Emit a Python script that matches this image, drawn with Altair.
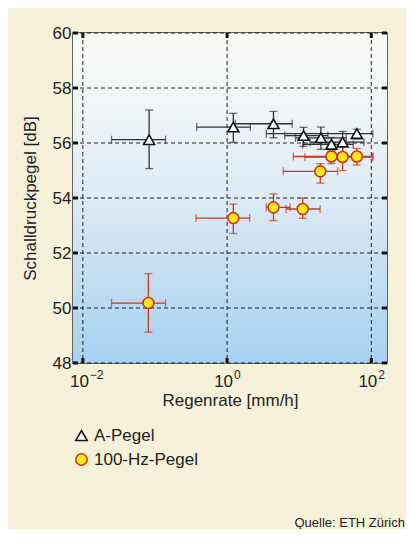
import altair as alt
import pandas as pd

# ---- data ----
series_names = ["A-Pegel", "100-Hz-Pegel"]

a_x = [0.083, 1.22, 4.4, 11.5, 20.0, 28.0, 40.0, 63.0]
a_y = [56.12, 56.58, 56.70, 56.27, 56.19, 55.95, 56.03, 56.34]
a_xlo = [0.025, 0.38, 1.3, 6.3, 8.9, 11.2, 14.1, 3.5]
a_xhi = [0.14, 2.1, 8.0, 25.0, 45.0, 56.0, 79.0, 105.0]
a_ylo = [55.07, 56.02, 56.19, 55.88, 55.77, 55.70, 55.49, 56.15]
a_yhi = [57.20, 57.08, 57.15, 56.57, 56.58, 56.20, 56.42, 56.50]

h_x = [0.081, 1.22, 4.4, 11.2, 19.6, 28.0, 40.0, 63.0]
h_y = [50.18, 53.27, 53.66, 53.60, 54.97, 55.51, 55.49, 55.51]
h_xlo = [0.025, 0.37, 3.5, 6.6, 6.0, 8.3, 12.0, 35.0]
h_xhi = [0.14, 2.05, 7.5, 19.5, 34.0, 56.0, 105.0, 105.0]
h_ylo = [49.12, 52.71, 53.18, 53.26, 54.54, 55.25, 55.00, 55.20]
h_yhi = [51.25, 53.78, 54.15, 54.00, 55.25, 55.75, 56.10, 55.80]

x_ticks = [0.01, 1, 100]
x_tick_base = ["10", "10", "10"]
x_tick_exp = ["−2", "0", "2"]
y_ticks = [48, 50, 52, 54, 56, 58, 60]

rows = []
for name, xs, ys, xl, xh, yl, yh in [
    (series_names[0], a_x, a_y, a_xlo, a_xhi, a_ylo, a_yhi),
    (series_names[1], h_x, h_y, h_xlo, h_xhi, h_ylo, h_yhi),
]:
    for i in range(len(xs)):
        rows.append(dict(series=name, x=xs[i], y=ys[i], xlo=xl[i], xhi=xh[i], ylo=yl[i], yhi=yh[i]))
df = pd.DataFrame(rows)

W, H = 314, 330
BG = "#f6f1d9"
RED = "#c8391c"
FONT = "Liberation Sans"
TXT = "#222222"

xscale = alt.Scale(type="log", domain=[0.0073, 165], nice=False)
yscale = alt.Scale(domain=[48, 60], nice=False, zero=False)

X = alt.X("x:Q", scale=xscale, axis=alt.Axis(
    values=x_ticks, labels=False, title="Regenrate [mm/h]",
    grid=False, ticks=False, domain=False,
    titleFontSize=17, titleFontWeight="normal", titlePadding=29,
    titleColor=TXT, titleFont=FONT))
Y = alt.Y("y:Q", scale=yscale, axis=alt.Axis(
    values=y_ticks, title="Schalldruckpegel [dB]",
    grid=False, ticks=False, domain=False, labelFontSize=17, labelPadding=2,
    titleFontSize=17, titleFontWeight="normal", titlePadding=13,
    labelColor=TXT, titleColor=TXT, labelFont=FONT, titleFont=FONT))

grad = alt.Gradient(gradient="linear", x1=0, x2=0, y1=0, y2=1,
                    stops=[alt.GradientStop(color="#fcfcf8", offset=0),
                           alt.GradientStop(color="#e2edf6", offset=0.45),
                           alt.GradientStop(color="#a6d0ef", offset=1)])

background = alt.Chart(pd.DataFrame({"a": [0]})).mark_rect(fill=grad).encode(
    x=alt.value(0), x2=alt.value(W), y=alt.value(0), y2=alt.value(H))

xt = pd.DataFrame({"v": x_ticks, "b": x_tick_base, "e": x_tick_exp})
yt = pd.DataFrame({"v": y_ticks})
grid_x = alt.Chart(xt).mark_rule(color="#222", strokeWidth=1, strokeDash=[4, 3]).encode(
    x=alt.X("v:Q", scale=xscale), y=alt.value(0), y2=alt.value(H))
grid_y = alt.Chart(yt).mark_rule(color="#222", strokeWidth=1, strokeDash=[4, 3]).encode(
    y=alt.Y("v:Q", scale=yscale), x=alt.value(0), x2=alt.value(W))

# x tick labels with superscript exponents
lab_base = alt.Chart(xt).mark_text(align="right", baseline="alphabetic", fontSize=17,
                                   font=FONT, color=TXT, dx=6).encode(
    x=alt.X("v:Q", scale=xscale), y=alt.value(H + 24), text="b:N")
lab_exp = alt.Chart(xt).mark_text(align="left", baseline="alphabetic", fontSize=12,
                                  font=FONT, color=TXT, dx=7).encode(
    x=alt.X("v:Q", scale=xscale), y=alt.value(H + 16), text="e:N")


def err_layers(name, col):
    b = alt.Chart(df).transform_filter(alt.datum.series == name)
    sw = 1.3
    return [
        b.mark_rule(strokeWidth=sw, color=col).encode(
            x=alt.X("xlo:Q", scale=xscale), x2="xhi:Q", y=alt.Y("y:Q", scale=yscale)),
        b.mark_rule(strokeWidth=sw, color=col).encode(
            x=alt.X("x:Q", scale=xscale), y=alt.Y("ylo:Q", scale=yscale), y2="yhi:Q"),
        b.mark_tick(orient="vertical", size=8, thickness=sw, color=col).encode(
            x=alt.X("xlo:Q", scale=xscale), y=alt.Y("y:Q", scale=yscale)),
        b.mark_tick(orient="vertical", size=8, thickness=sw, color=col).encode(
            x=alt.X("xhi:Q", scale=xscale), y=alt.Y("y:Q", scale=yscale)),
        b.mark_tick(orient="horizontal", size=8, thickness=sw, color=col).encode(
            x=alt.X("x:Q", scale=xscale), y=alt.Y("ylo:Q", scale=yscale)),
        b.mark_tick(orient="horizontal", size=8, thickness=sw, color=col).encode(
            x=alt.X("x:Q", scale=xscale), y=alt.Y("yhi:Q", scale=yscale)),
    ]


leg = alt.Legend(title=None, orient="none", legendX=0, legendY=394,
                 labelFontSize=17, labelFont=FONT, labelColor=TXT,
                 symbolSize=130, rowPadding=6, symbolStrokeWidth=1.6, labelOffset=4)

points = alt.Chart(df).mark_point(filled=True, opacity=1, strokeWidth=1.6, size=120).encode(
    x=X, y=Y,
    shape=alt.Shape("series:N", scale=alt.Scale(domain=series_names, range=["triangle-up", "circle"]), legend=leg),
    fill=alt.Fill("series:N", scale=alt.Scale(domain=series_names, range=["#ffffff", "#ffe81a"]), legend=leg),
    stroke=alt.Stroke("series:N", scale=alt.Scale(domain=series_names, range=["#111111", RED]), legend=leg),
)

# inward tick marks on the frame
tick_b = alt.Chart(xt).mark_rule(color="#111", strokeWidth=3).encode(
    x=alt.X("v:Q", scale=xscale), y=alt.value(H - 5), y2=alt.value(H))
tick_t = alt.Chart(xt).mark_rule(color="#111", strokeWidth=3).encode(
    x=alt.X("v:Q", scale=xscale), y=alt.value(0), y2=alt.value(5))
tick_l = alt.Chart(yt).mark_rule(color="#111", strokeWidth=3).encode(
    y=alt.Y("v:Q", scale=yscale), x=alt.value(0), x2=alt.value(5))
tick_r = alt.Chart(yt).mark_rule(color="#111", strokeWidth=3).encode(
    y=alt.Y("v:Q", scale=yscale), x=alt.value(W - 5), x2=alt.value(W))

source = alt.Chart(pd.DataFrame({"t": ["Quelle: ETH Zürich"]})).mark_text(
    align="right", baseline="alphabetic", fontSize=13, font=FONT, color=TXT).encode(
    text="t:N", x=alt.value(W + 18), y=alt.value(H + 164))

layers = [background, grid_x, grid_y] + err_layers(series_names[0], "#333333") + \
    err_layers(series_names[1], RED) + [points, tick_b, tick_t, tick_l, tick_r,
                                        lab_base, lab_exp, source]

chart = alt.layer(*layers).properties(
    width=W, height=H,
    autosize=alt.AutoSizeParams(type="none"),
    padding={"left": 65, "top": 25, "right": 19, "bottom": 166},
    background=BG,
).configure_view(stroke="#333", strokeWidth=1.5)

chart.save("out.html", embed_options={"renderer": "svg", "actions": False})
